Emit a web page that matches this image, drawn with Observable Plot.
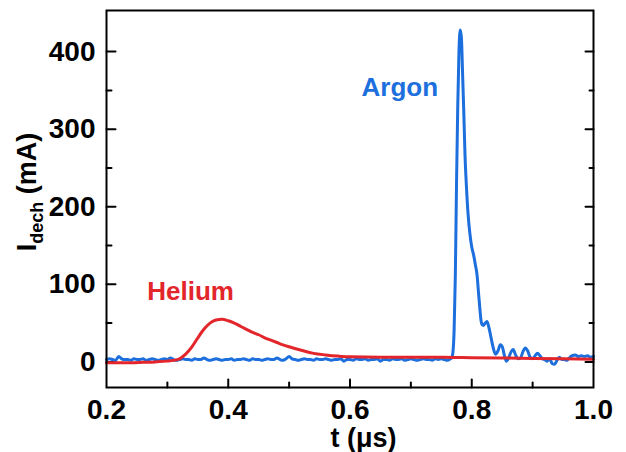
<!DOCTYPE html>
<html>
<head>
<meta charset="utf-8">
<script src="https://cdn.jsdelivr.net/npm/d3@7"></script>
<script src="https://cdn.jsdelivr.net/npm/@observablehq/plot@0.6"></script>
<style>
  body { margin: 0; background: #fff; }
  #chart svg { display: block; }
</style>
</head>
<body>
<div id="chart"></div>
<script>
// ---- tick values ----
const xTicks = [0.2, 0.4, 0.6, 0.8, 1.0];
const xMinorTicks = [0.3, 0.5, 0.7, 0.9];
const yTicks = [0, 100, 200, 300, 400];
const yMinorTicks = [50, 150, 250, 350];

// ---- Argon: baseline read every 0.005 µs starting at 0.200 µs (mA) ----
const argonBaselineStart = 0.2;
const argonBaselineStep = 0.005;
const argonBaseline = [
  3,4,3,2,7,4,3,3,2,4,
  3,3,4,2,3,4,3,2,3,4,
  3,5,3,2,3,4,3,3,2,4,
  3,3,5,3,2,3,4,3,2,3,
  3,4,2,3,3,4,3,2,4,3,
  3,2,3,4,3,3,5,3,2,4,
  7,4,3,2,3,4,3,3,2,4,
  3,3,4,3,2,3,3,4,1,3,
  3,2,4,3,3,4,2,3,3,4,
  1,3,3,2,4,3,3,4,2,3,
  4,3,2,3,4,3,3,2,4,3,
  4,3,2,4
];
// ---- Argon: discharge pulse and ringing ----
const argonPulseT = [
  0.767,0.769,0.771,0.773,0.775,0.777,0.779,0.781,0.783,0.785,
  0.787,0.789,0.791,0.794,0.797,0.800,0.803,0.806,0.809,0.811,
  0.813,0.815,0.817,0.819,0.822,0.825,0.828,0.832,0.836,0.839,
  0.843,0.847,0.850,0.854,0.857,0.860,0.864,0.868,0.872,0.876,
  0.880,0.884,0.888,0.892,0.896,0.900,0.904,0.908,0.912,0.916,
  0.920,0.924,0.928,0.932,0.936,0.940,0.944,0.948,0.952,0.956,
  0.960,0.965,0.970,0.975,0.980,0.985,0.990,0.995,1.000
];
const argonPulseI = [
  5,12,40,110,230,330,400,428,418,370,
  320,265,230,190,165,148,138,125,110,90,
  72,55,48,47,50,52,45,30,16,10,
  14,22,20,7,1,4,12,16,9,4,
  5,13,18,14,6,4,8,11,8,4,
  3,1,4,-2,-3,2,6,3,3,2,
  5,8,9,7,8,7,8,6,7
];

// ---- Helium ----
const heliumT = [
  0.20,0.22,0.24,0.26,0.28,0.30,0.31,0.32,0.33,0.34,
  0.35,0.36,0.37,0.38,0.39,0.40,0.41,0.42,0.43,0.44,
  0.45,0.46,0.47,0.48,0.49,0.50,0.52,0.54,0.56,0.58,
  0.60,0.65,0.70,0.75,0.80,0.85,0.90,0.95,1.00
];
const heliumI = [
  -1,-1,-1,-0.5,0,1,2,4,10,19,
  31,42,50,54,55,53,50,46,42,38,
  35,31,28,25,22,19.5,15,11,9,7.5,
  6.5,6,6,6,5.5,5,4.5,4,3.5
];

// ---- annotations ----
const seriesLabels = [
  {name: "Argon", t: 0.619, i: 343, color: "#1c6fdc"},
  {name: "Helium", t: 0.267, i: 80, color: "#e2262b"}
];
const xTitle = "t (μs)";
const yTitleMain = "I", yTitleSub = "dech", yTitleUnit = " (mA)";

// ---- build tables ----
const argon = [
  ...argonBaseline.map((v, k) => ({t: argonBaselineStart + k * argonBaselineStep, i: v})),
  ...argonPulseT.map((t, k) => ({t, i: argonPulseI[k]}))
];
const helium = heliumT.map((t, k) => ({t, i: heliumI[k]}));

const FONT = "'Liberation Sans', Arial, Helvetica, sans-serif";
const tickShape = {draw(context, l) { context.moveTo(0, 0); context.lineTo(0, -l); }};
const tickStyle = {anchor: "start", shape: tickShape, stroke: "black", strokeWidth: 2};

const chart = Plot.plot({
  width: 626,
  height: 452,
  marginLeft: 106,
  marginRight: 33,
  marginTop: 10,
  marginBottom: 65,
  style: {fontFamily: FONT, fontSize: "28px", fontWeight: "bold", background: "white", color: "black"},
  x: {domain: [0.2, 1.0]},
  y: {domain: [-33, 453]},
  marks: [
    Plot.axisX(xTicks, {tickSize: 0, tickPadding: 12, tickFormat: d3.format(".1f"), label: null, fontSize: 28, fontWeight: "bold"}),
    Plot.axisY(yTicks, {tickSize: 0, tickPadding: 11, label: null, fontSize: 28, fontWeight: "bold"}),
    // inward ticks: bottom
    Plot.vector(xTicks.slice(1, -1), {x: d => d, frameAnchor: "bottom", rotate: 0, length: 8, ...tickStyle}),
    Plot.vector(xMinorTicks, {x: d => d, frameAnchor: "bottom", rotate: 0, length: 5, ...tickStyle}),
    // left
    Plot.vector(yTicks, {y: d => d, frameAnchor: "left", rotate: 90, length: 9, ...tickStyle}),
    Plot.vector(yMinorTicks, {y: d => d, frameAnchor: "left", rotate: 90, length: 5, ...tickStyle}),
    // right
    Plot.vector(yTicks, {y: d => d, frameAnchor: "right", rotate: -90, length: 8, ...tickStyle}),
    Plot.vector(yMinorTicks, {y: d => d, frameAnchor: "right", rotate: -90, length: 4, ...tickStyle}),
    // data
    Plot.line(argon, {x: "t", y: "i", stroke: "#1c6fdc", strokeWidth: 3, curve: "monotone-x"}),
    Plot.line(helium, {x: "t", y: "i", stroke: "#e2262b", strokeWidth: 3, curve: "monotone-x"}),
    Plot.frame({stroke: "black", strokeWidth: 2}),
    // series labels
    Plot.text(seriesLabels, {x: "t", y: "i", text: "name", fill: "color", textAnchor: "start", lineAnchor: "bottom", fontSize: 26, fontWeight: "bold"}),
    // x title
    Plot.text([xTitle], {x: 0.622, frameAnchor: "bottom", dy: 59, lineAnchor: "bottom", text: d => d, fontSize: 27, fontWeight: "bold", fill: "black"})
  ]
});

document.getElementById("chart").appendChild(chart);

// y-axis title with subscript
const svg = d3.select(chart.tagName.toLowerCase() === "svg" ? chart : chart.querySelector("svg"));
const yt = svg.append("text")
  .attr("transform", "translate(36,192) rotate(-90)")
  .attr("text-anchor", "middle")
  .attr("font-family", FONT)
  .attr("font-size", 27)
  .attr("font-weight", "bold")
  .attr("fill", "black");
yt.append("tspan").text(yTitleMain);
yt.append("tspan").attr("font-size", 18).attr("dy", 7).text(yTitleSub);
yt.append("tspan").attr("dy", -7).text(yTitleUnit);
</script>
</body>
</html>
